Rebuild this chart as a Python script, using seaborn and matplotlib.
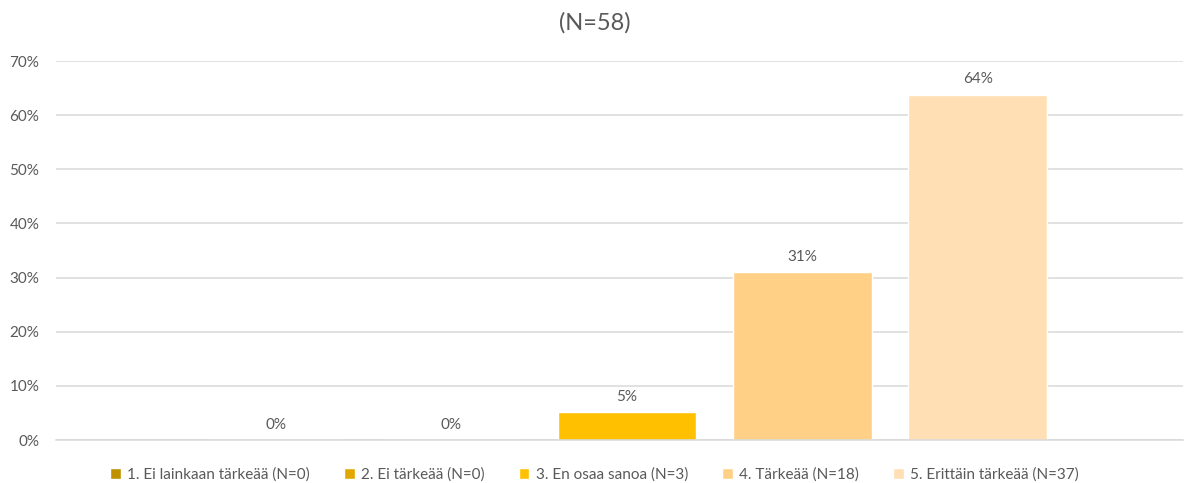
import matplotlib
matplotlib.use("Agg")
import numpy as np
import seaborn as sns
from matplotlib import pyplot as plt

# Data
vastaukset = ["1. Ei lainkaan tärkeää", "2. Ei tärkeää", "3. En osaa sanoa",
              "4. Tärkeää", "5. Erittäin tärkeää"]
lukumaarat = [0, 0, 3, 18, 37]
yhteensa = 58
varit = ["#BF9000", "#E2A800", "#FFC000", "#FFD086", "#FFDFB3"]
y_ticks = [0, 0.1, 0.2, 0.3, 0.4, 0.5, 0.6, 0.7]

osuudet = [n / yhteensa for n in lukumaarat]
nimet = [f"{v} (N={n})" for v, n in zip(vastaukset, lukumaarat)]

sns.set_theme(style="white")
plt.rcParams['font.family'] = ['Lato', 'DejaVu Sans']
teksti = "#595959"

fig = plt.figure(figsize=(11.89, 4.83), dpi=100)
ax = fig.add_axes([0.0471, 0.089, 0.9479, 0.7847])

sns.barplot(x=nimet, y=osuudet, hue=nimet, palette=varit, width=0.79,
            dodge=False, legend=True, ax=ax, saturation=1)

# Data labels
for c in ax.containers:
    ax.bar_label(c, labels=[f"{v*100:.0f}%" for v in c.datavalues],
                 padding=6, fontsize=11, color=teksti)

ax.set_ylim(0, 0.7)
ax.set_xlim(-1.254, 5.17)
ax.set_yticks(y_ticks)
ax.set_yticklabels([f"{t*100:.0f}%" for t in y_ticks], fontsize=11, color=teksti)
ax.set_xticks([])
ax.set_xlabel("")
ax.set_ylabel("")
ax.tick_params(axis="y", length=0, pad=12)
ax.yaxis.grid(True, color="#D9D9D9", linewidth=1.1)
ax.set_axisbelow(True)
for s in ["top", "right", "left"]:
    ax.spines[s].set_visible(False)
ax.spines["bottom"].set_color("#D9D9D9")
ax.spines["bottom"].set_linewidth(1.1)

fig.text(0.5, 0.952, f"(N={yhteensa})", ha="center", va="center",
         fontsize=17, color=teksti)

# Legend below the chart
handles, labels = ax.get_legend_handles_labels()
ax.get_legend().remove()
fig.legend(handles, labels, loc="center", bbox_to_anchor=(0.5, 0.017), ncol=5,
           frameon=False, fontsize=11, labelcolor=teksti, handlelength=0.7,
           handleheight=0.7, handletextpad=0.4, columnspacing=2.25)

fig.savefig("out.png", dpi=100)
